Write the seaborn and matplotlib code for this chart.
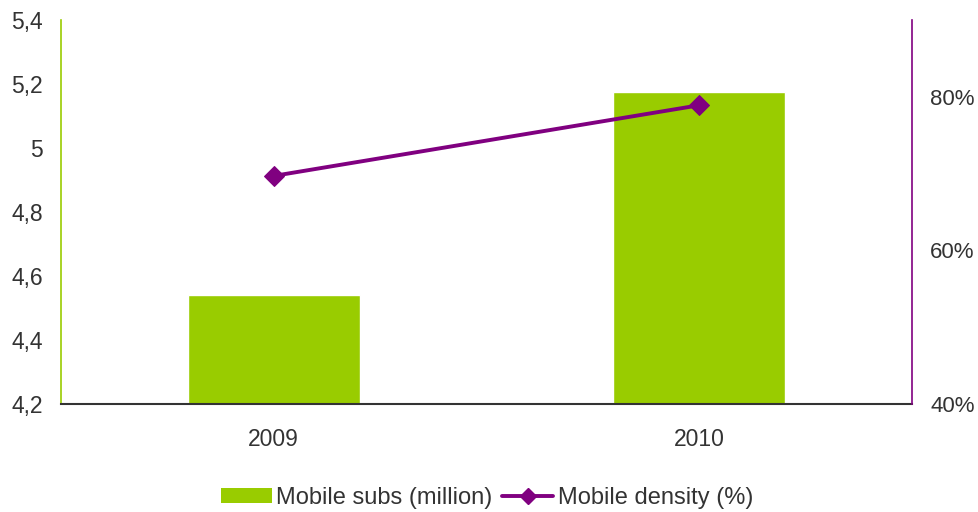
import matplotlib
matplotlib.use("Agg")
import matplotlib.pyplot as plt
import seaborn as sns
import numpy as np
import pandas as pd
from matplotlib.patches import Patch
from matplotlib.lines import Line2D
from matplotlib.ticker import FuncFormatter, FixedLocator

years = ["2009", "2010"]
subs_million = [4.54, 5.175]
density_pct = [69.7, 78.9]
left_ticks = [4.2, 4.4, 4.6, 4.8, 5.0, 5.2, 5.4]
right_ticks = [40, 60, 80]

green = "#99cc00"
purple = "#800080"
text_col = "#333333"

sns.set_theme(style="white")
plt.rcParams["font.family"] = ["Liberation Sans", "DejaVu Sans"]

fig = plt.figure(figsize=(9.79, 5.12), dpi=100)
ax = fig.add_axes([61 / 979, 1 - 404 / 512, (912 - 61) / 979, (404 - 20) / 512])

df = pd.DataFrame({"year": years, "subs": subs_million, "density": density_pct})
sns.barplot(data=df, x="year", y="subs", color=green, width=0.404,
            saturation=1, ax=ax)
ax.set_xlim(-0.5, len(years) - 0.5)
ax.set_ylim(4.2, 5.4)
ax.yaxis.set_major_locator(FixedLocator(left_ticks))


def comma_fmt(v, _):
    s = f"{v:.1f}"
    if s.endswith(".0"):
        s = s[:-2]
    return s.replace(".", ",")


ax.yaxis.set_major_formatter(FuncFormatter(comma_fmt))
ax.set_xlabel("")
ax.set_ylabel("")
ax.tick_params(axis="y", length=0, pad=13, labelsize=16.5, labelcolor=text_col)
ax.tick_params(axis="x", length=0, pad=17.5, labelsize=16.5, labelcolor=text_col)

ax2 = ax.twinx()
sns.lineplot(x=np.arange(len(years)), y=df["density"], color=purple,
             marker="D", markersize=10, markeredgecolor=purple,
             linewidth=2.8, ax=ax2)
ax2.set_ylim(40, 90)
ax2.yaxis.set_major_locator(FixedLocator(right_ticks))
ax2.yaxis.set_major_formatter(FuncFormatter(lambda v, _: f"{v:.0f}%"))
ax2.set_ylabel("")
ax2.tick_params(axis="y", length=0, pad=13, labelsize=16, labelcolor=text_col)

for a in (ax, ax2):
    a.spines["top"].set_visible(False)
ax.spines["right"].set_visible(False)
ax.spines["left"].set_color(green)
ax.spines["left"].set_linewidth(1.2)
ax.spines["bottom"].set_color("#333333")
ax.spines["bottom"].set_linewidth(1.5)
ax2.spines["left"].set_visible(False)
ax2.spines["bottom"].set_visible(False)
ax2.spines["right"].set_color(purple)
ax2.spines["right"].set_linewidth(1.2)

handles = [
    Patch(facecolor=green, edgecolor="none", label="Mobile subs (million)"),
    Line2D([0], [0], color=purple, linewidth=2.8, marker="D", markersize=8,
           label="Mobile density (%)"),
]
leg = fig.legend(handles=handles, loc="center", bbox_to_anchor=(487 / 979, 1 - 498 / 512),
                 ncol=2, frameon=False, fontsize=17, handlelength=2.15,
                 handletextpad=0.2, columnspacing=0.4, handleheight=0.6,
                 borderpad=0, borderaxespad=0)
for t in leg.get_texts():
    t.set_color(text_col)

fig.savefig("out.png", dpi=100)
